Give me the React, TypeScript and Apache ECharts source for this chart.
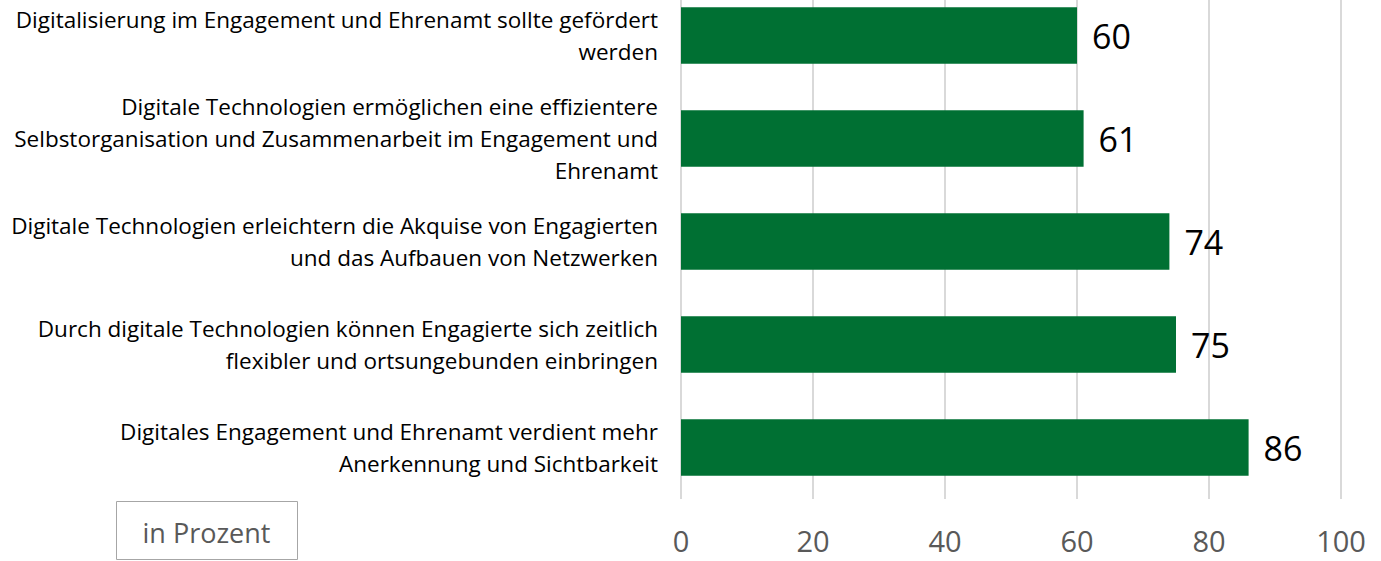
import React, { useEffect, useRef } from "react";
import * as echarts from "echarts";

const categories = [
  "Digitalisierung im Engagement und Ehrenamt sollte gefördert\nwerden",
  "Digitale Technologien ermöglichen eine effizientere\nSelbstorganisation und Zusammenarbeit im Engagement und\nEhrenamt",
  "Digitale Technologien erleichtern die Akquise von Engagierten\nund das Aufbauen von Netzwerken",
  "Durch digitale Technologien können Engagierte sich zeitlich\nflexibler und ortsungebunden einbringen",
  "Digitales Engagement und Ehrenamt verdient mehr\nAnerkennung und Sichtbarkeit",
];
const values = [60, 61, 74, 75, 86];
const unitLabel = "in Prozent";

const FONT = "'Open Sans', 'Noto Sans', sans-serif";

export default function App() {
  const ref = useRef<HTMLDivElement>(null);
  useEffect(() => {
    document.body.style.margin = "0";
    const chart = echarts.init(ref.current!, null, { renderer: "svg" });
    chart.setOption({
      animation: false,
      grid: {
        left: 681,
        right: 40,
        top: -16,
        bottom: 62,
        containLabel: false,
        outerBoundsMode: "none",
      },
      xAxis: {
        type: "value",
        min: 0,
        max: 100,
        interval: 20,
        axisLine: { show: false },
        axisTick: { show: false },
        splitLine: { lineStyle: { color: "#d9d9d9", width: 2 } },
        axisLabel: { color: "#595959", fontSize: 29, fontFamily: FONT, margin: 27 },
      },
      yAxis: {
        type: "category",
        inverse: true,
        data: categories,
        axisLine: { show: false },
        axisTick: { show: false },
        axisLabel: {
          color: "#000",
          fontSize: 22.5,
          lineHeight: 32,
          fontFamily: FONT,
          margin: 23,
          align: "right",
        },
      },
      series: [
        {
          type: "bar",
          data: values,
          barWidth: "55%",
          itemStyle: { color: "#007033" },
          label: {
            show: true,
            position: "right",
            distance: 15,
            color: "#000",
            fontSize: 34,
            fontFamily: FONT,
          },
        },
      ],
      graphic: [
        {
          type: "rect",
          shape: { x: 116.5, y: 501.5, width: 181, height: 58 },
          style: { fill: "#fff", stroke: "#a6a6a6", lineWidth: 1 },
        },
        {
          type: "text",
          x: 206.5,
          y: 532,
          style: {
            text: unitLabel,
            fill: "#595959",
            fontSize: 27,
            fontFamily: FONT,
            align: "center",
            verticalAlign: "middle",
          },
        },
      ],
    });
    return () => chart.dispose();
  }, []);
  return <div ref={ref} style={{ width: 1381, height: 561 }} />;
}
